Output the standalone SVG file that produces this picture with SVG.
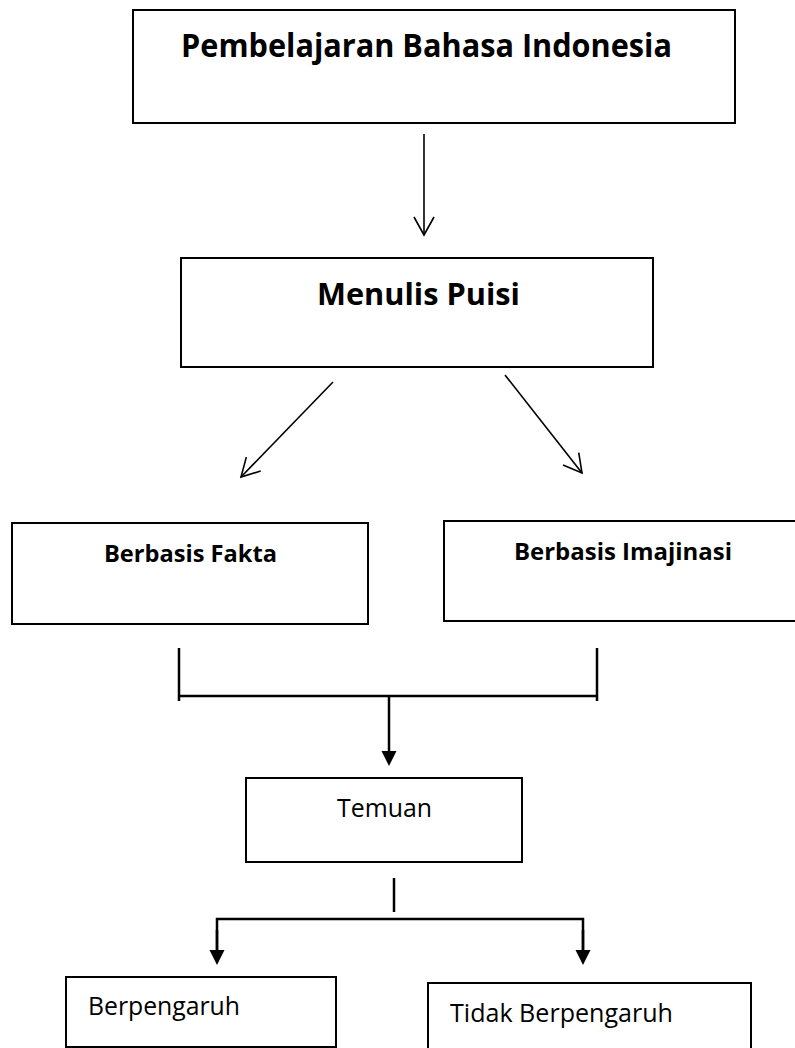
<svg xmlns="http://www.w3.org/2000/svg" width="795" height="1048" viewBox="0 0 795 1048">
  <style>
    .box { fill: #ffffff; stroke: #000000; stroke-width: 2; }
    .tb { font-family: "Open Sans", "Liberation Sans", sans-serif; font-weight: 700; fill: #000000; }
    .tr { font-family: "Open Sans", "Liberation Sans", sans-serif; font-weight: 400; fill: #000000; }
    .thin { stroke: #000000; stroke-width: 1.6; fill: none; }
    .thick { stroke: #000000; stroke-width: 2.5; fill: none; }
  </style>
  <defs>
    <marker id="open" markerUnits="userSpaceOnUse" viewBox="-22 -14 26 28" refX="0" refY="0" markerWidth="26" markerHeight="28" orient="auto">
      <path d="M-18,-10 L0,0 L-18,10" fill="none" stroke="#000000" stroke-width="1.6"/>
    </marker>
    <marker id="solid" markerUnits="userSpaceOnUse" viewBox="-1 -9 18 18" refX="0" refY="0" markerWidth="18" markerHeight="18" orient="auto">
      <path d="M0,-7.5 L15,0 L0,7.5 Z" fill="#000000"/>
    </marker>
  </defs>
  <rect width="795" height="1048" fill="#ffffff"/>

  <g id="connectors">
    <line class="thin" x1="424" y1="134" x2="424" y2="235" marker-end="url(#open)"/>
    <line class="thin" x1="333" y1="382" x2="241" y2="477" marker-end="url(#open)"/>
    <line class="thin" x1="505" y1="375" x2="582" y2="473" marker-end="url(#open)"/>
    <line class="thick" x1="179" y1="648" x2="179" y2="701"/>
    <line class="thick" x1="597" y1="648" x2="597" y2="701"/>
    <line class="thick" x1="179" y1="696" x2="597" y2="696"/>
    <line class="thick" x1="389" y1="697" x2="389" y2="751" marker-end="url(#solid)"/>
    <line class="thick" x1="394" y1="878" x2="394" y2="912"/>
    <polyline class="thick" points="217,950 217,919 583,919 583,950"/>
    <line class="thick" x1="217" y1="930" x2="217" y2="950" marker-end="url(#solid)"/>
    <line class="thick" x1="583" y1="930" x2="583" y2="950" marker-end="url(#solid)"/>
  </g>

  <g id="node-pembelajaran">
    <rect class="box" x="133" y="10" width="602" height="113"/>
    <text class="tb" x="181" y="57" font-size="32" textLength="491" lengthAdjust="spacingAndGlyphs">Pembelajaran Bahasa Indonesia</text>
  </g>

  <g id="node-menulis">
    <rect class="box" x="181" y="258" width="472" height="109"/>
    <text class="tb" x="317" y="305" font-size="31" textLength="203" lengthAdjust="spacingAndGlyphs">Menulis Puisi</text>
  </g>

  <g id="node-fakta">
    <rect class="box" x="12" y="523" width="356" height="101"/>
    <text class="tb" x="104" y="562" font-size="23.5" textLength="173" lengthAdjust="spacingAndGlyphs">Berbasis Fakta</text>
  </g>

  <g id="node-imajinasi">
    <rect class="box" x="444" y="521" width="360" height="100"/>
    <text class="tb" x="514" y="560" font-size="23.7" textLength="218" lengthAdjust="spacingAndGlyphs">Berbasis Imajinasi</text>
  </g>

  <g id="node-temuan">
    <rect class="box" x="246" y="778" width="276" height="84"/>
    <text class="tr" x="337" y="817" font-size="25" textLength="95" lengthAdjust="spacingAndGlyphs">Temuan</text>
  </g>

  <g id="node-berpengaruh">
    <rect class="box" x="66" y="977" width="270" height="70"/>
    <text class="tr" x="88" y="1015" font-size="25" textLength="152" lengthAdjust="spacingAndGlyphs">Berpengaruh</text>
  </g>

  <g id="node-tidak">
    <rect class="box" x="428" y="983" width="323" height="80"/>
    <text class="tr" x="450" y="1022" font-size="25" textLength="223" lengthAdjust="spacingAndGlyphs">Tidak Berpengaruh</text>
  </g>
</svg>
